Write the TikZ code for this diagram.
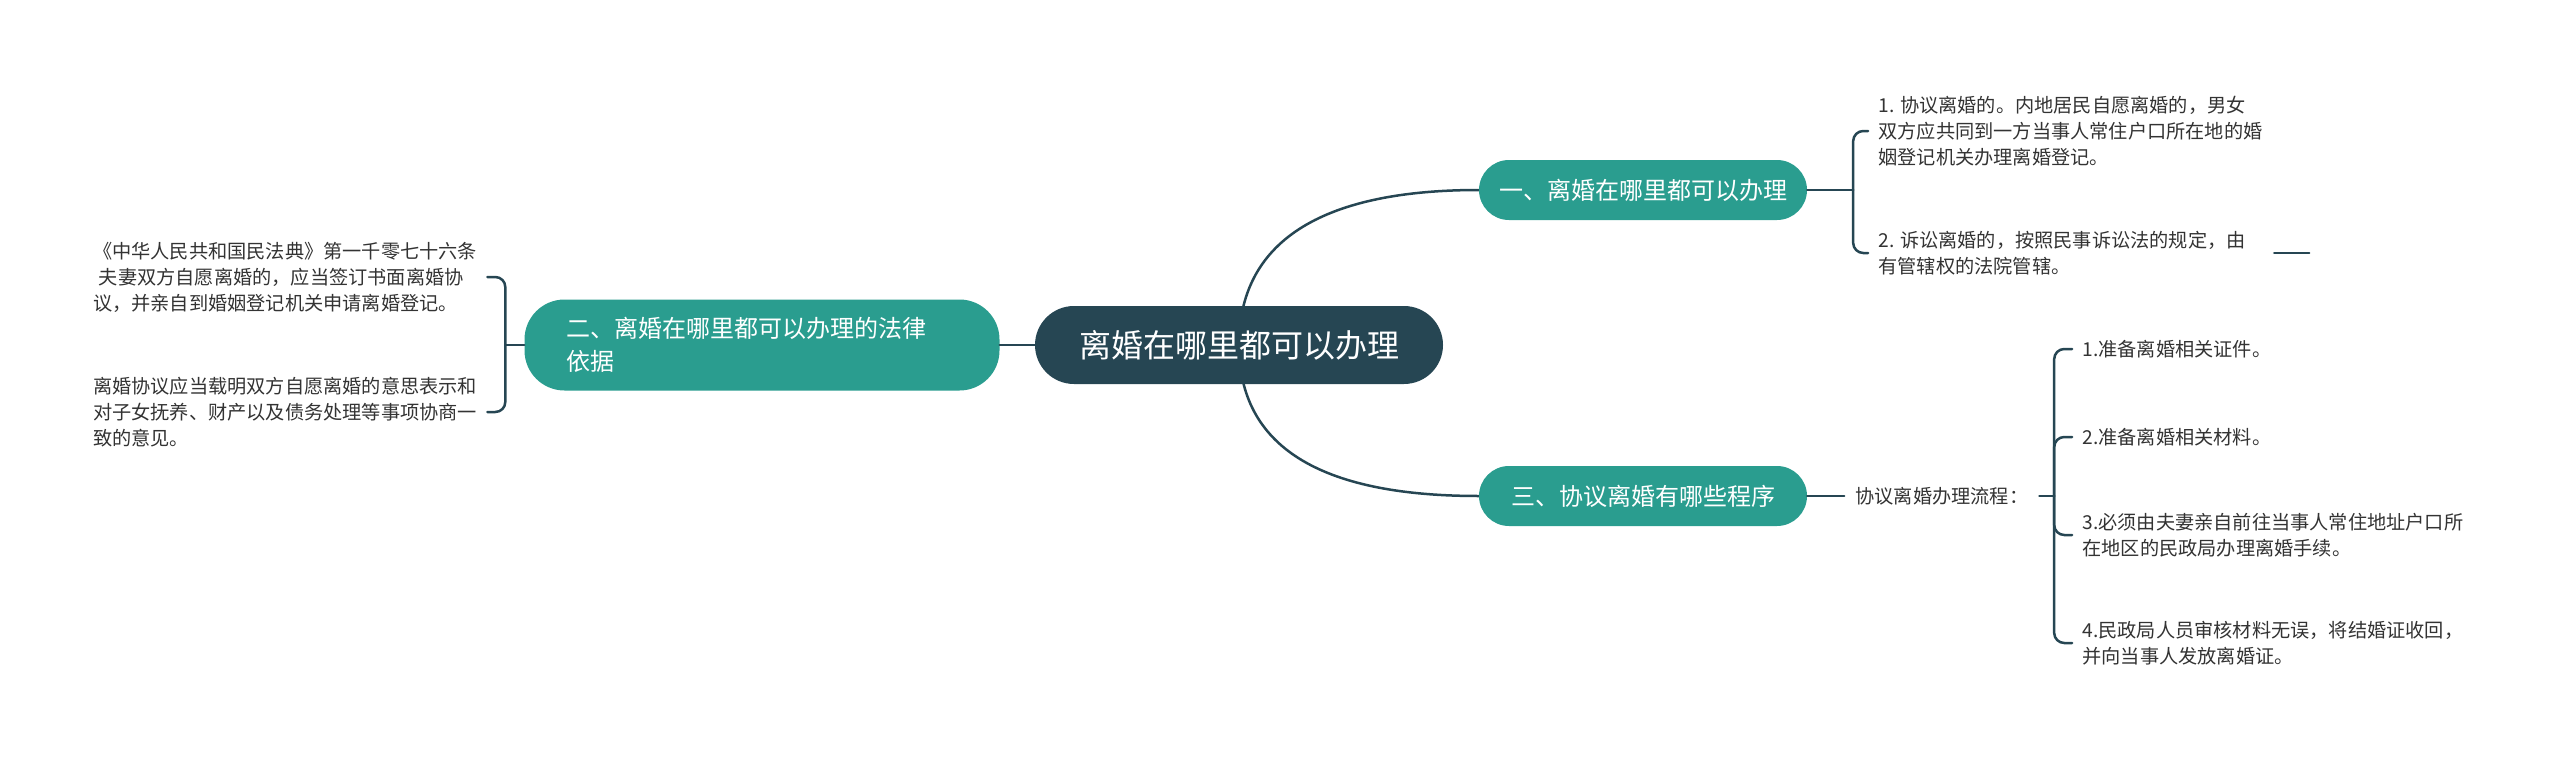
\documentclass[tikz,border=0pt]{standalone}
\usepackage{fontspec}
\setmainfont{Noto Sans CJK SC}
\usetikzlibrary{positioning, backgrounds}
\definecolor{mapslate}{HTML}{264653}
\definecolor{mapteal}{HTML}{2A9D8F}
\definecolor{leafgray}{HTML}{333333}

\begin{document}
\begin{tikzpicture}[x=1pt,y=1pt,on grid,
    topic/.style={fill=mapslate,text=white,rounded corners=39pt,minimum width=408pt,minimum height=78pt,font=\fontsize{32}{38}\selectfont},
    branch/.style={fill=mapteal,text=white,rounded corners=30pt,minimum width=328pt,minimum height=60pt,font=\fontsize{24}{33}\selectfont},
    leaf/.style={text=leafgray,inner sep=0pt,align=left,font=\fontsize{19.2}{26}\selectfont},
    link/.style={draw=mapslate,line width=2.5pt,line cap=round},
    fork/.style={link,rounded corners=10pt}]
  \useasboundingbox (0,0) rectangle (2560,-760);
  \node[topic] (root) at (1239,-345) {离婚在哪里都可以办理};
  \node[branch] (where) [above right=155pt and 404pt of root] {一、离婚在哪里都可以办理};
  \node[branch] (steps) [below right=151pt and 404pt of root] {三、协议离婚有哪些程序};
  \node[branch,text width=391pt,inner xsep=42pt,align=left,rounded corners=40pt,minimum height=91pt] (law) [left=477pt of root] {二、离婚在哪里都可以办理的法律\\依据};

  % left side
  \node[leaf,anchor=east] (lawA) at ([xshift=-47pt,yshift=68pt]law.west) {《中华人民共和国民法典》第一千零七十六条\\\hspace{0.3em}夫妻双方自愿离婚的，应当签订书面离婚协\\议，并亲自到婚姻登记机关申请离婚登记。};
  \node[leaf,anchor=east] (lawB) at ([xshift=-47pt,yshift=-67pt]law.west) {离婚协议应当载明双方自愿离婚的意思表示和\\对子女抚养、财产以及债务处理等事项协商一\\致的意见。};

  % right side, top
  \node[leaf,anchor=west] (whereA) at ([xshift=71pt,yshift=59pt]where.east) {1. 协议离婚的。内地居民自愿离婚的，男女\\双方应共同到一方当事人常住户口所在地的婚\\姻登记机关办理离婚登记。};
  \node[leaf,anchor=west] (whereB) at ([xshift=71pt,yshift=-63pt]where.east) {2. 诉讼离婚的，按照民事诉讼法的规定，由\\有管辖权的法院管辖。};

  % right side, bottom
  \node[leaf,inner xsep=11pt,anchor=west] (flow) at ([xshift=37pt]steps.east) {协议离婚办理流程：};
  \coordinate (sb) at ([xshift=247pt]steps.east);
  \node[leaf,anchor=west] (stepA) at ([xshift=28pt,yshift=147pt]sb) {1.准备离婚相关证件。};
  \node[leaf,anchor=west] (stepB) at ([xshift=28pt,yshift=59pt]sb) {2.准备离婚相关材料。};
  \node[leaf,anchor=west] (stepC) at ([xshift=28pt,yshift=-39pt]sb) {3.必须由夫妻亲自前往当事人常住地址户口所\\在地区的民政局办理离婚手续。};
  \node[leaf,anchor=west] (stepD) at ([xshift=28pt,yshift=-147pt]sb) {4.民政局人员审核材料无误，将结婚证收回，\\并向当事人发放离婚证。};

  \begin{scope}[on background layer]
    \draw[link] (root.center) .. controls +(0,102) and +(-160,0) .. (where.west);
    \draw[link] (root.center) .. controls +(0,-101) and +(-160,0) .. (steps.west);
  \end{scope}
  \draw[link] (root.west) -- (law.east);

  \coordinate (lb) at ([xshift=-19pt]law.west);
  \draw[link] (law.west) -- (lb);
  \foreach \s in {lawA,lawB} \draw[fork] (lb) |- ([xshift=10pt]\s.east);

  \coordinate (wb) at ([xshift=46pt]where.east);
  \draw[link] (where.east) -- (wb);
  \foreach \s in {whereA,whereB} \draw[fork] (wb) |- ([xshift=-10pt]\s.west);
  \coordinate (tailA) at ([xshift=396pt]whereB.west);
  \coordinate (tailB) at ([xshift=431pt]whereB.west);
  \draw[link] (tailA) -- (tailB);

  \draw[link] (steps.east) -- (flow.west);
  \draw[link] (flow.east) -- (sb);
  \foreach \s in {stepA,stepB,stepC,stepD} \draw[fork] (sb) |- ([xshift=-10pt]\s.west);
\end{tikzpicture}
\end{document}
